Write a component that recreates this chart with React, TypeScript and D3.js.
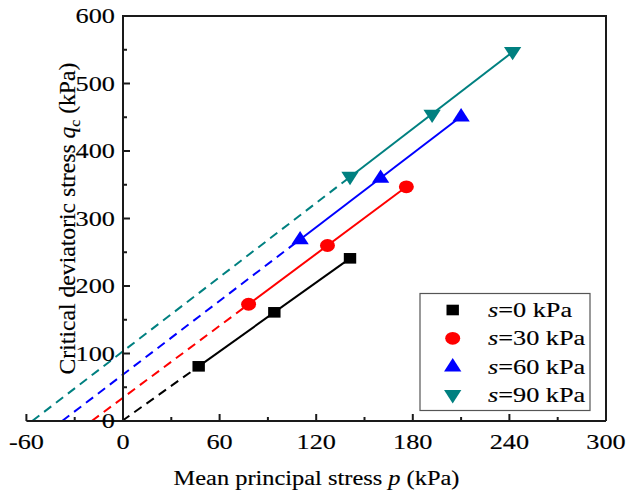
import React from "react";
import * as d3 from "d3";

const W = 638;
const H = 495;

const seriesNames = ["0", "30", "60", "90"];
const seriesColors = ["#000000", "#ff0000", "#0000ff", "#008080"];
const seriesShapes = ["square", "circle", "triUp", "triDown"];

const pS0 = [47, 94, 141];
const qS0 = [81, 161, 241];
const pS30 = [78, 127, 176];
const qS30 = [173, 260, 347];
const pS60 = [110, 160, 210];
const qS60 = [269, 360, 451];
const pS90 = [141, 192, 242];
const qS90 = [362, 454, 547];

const pSeries = [pS0, pS30, pS60, pS90];
const qSeries = [qS0, qS30, qS60, qS90];

const xMajorTicks = [-60, 0, 60, 120, 180, 240, 300];
const xMinorTicks = [-30, 30, 90, 150, 210, 270];
const yMajorTicks = [0, 100, 200, 300, 400, 500, 600];
const yMinorTicks = [50, 150, 250, 350, 450, 550];

const FONT = "'Liberation Serif', 'Times New Roman', serif";
const SX = 1.22;

function fit(p: number[], q: number[]) {
  const mp = d3.mean(p)!;
  const mq = d3.mean(q)!;
  let num = 0;
  let den = 0;
  p.forEach((v, i) => {
    num += (v - mp) * (q[i] - mq);
    den += (v - mp) * (v - mp);
  });
  const m = num / den;
  return { m, k: mq - m * mp };
}

function Marker({ shape, x, y, color }: { shape: string; x: number; y: number; color: string }) {
  const t = `translate(${x},${y}) scale(1.17,1)`;
  if (shape === "square") return <rect transform={t} x={-5.3} y={-5.3} width={10.6} height={10.6} fill={color} />;
  if (shape === "circle") return <circle transform={t} r={6.4} fill={color} />;
  if (shape === "triUp") return <path transform={t} d="M0,-8.5 L7.4,4.8 L-7.4,4.8 Z" fill={color} />;
  return <path transform={t} d="M0,8.5 L7.4,-4.8 L-7.4,-4.8 Z" fill={color} />;
}

export default function App() {
  const x = d3.scaleLinear().domain([-60, 300]).range([26.4, 606]);
  const y = d3.scaleLinear().domain([0, 600]).range([421, 16]);
  const axisColor = "#1a1a1a";
  const txt = { fill: "#000", stroke: "#000", strokeWidth: 0.15 };

  return (
    <svg width={W} height={H} style={{ display: "block", position: "absolute", left: 0, top: 0 }}>
      <rect width={W} height={H} fill="#fff" />
      {pSeries.map((p, i) => {
        const q = qSeries[i];
        const { m, k } = fit(p, q);
        const p0 = Math.max(-k / m, -60);
        const pStart = d3.min(p)!;
        const pEnd = d3.max(p)!;
        return (
          <g key={"l" + i} stroke={seriesColors[i]} strokeWidth={2} fill="none">
            <line x1={x(p0)} y1={y(m * p0 + k)} x2={x(pStart)} y2={y(m * pStart + k)} strokeDasharray="9,6" />
            <line x1={x(pStart)} y1={y(m * pStart + k)} x2={x(pEnd)} y2={y(m * pEnd + k)} />
          </g>
        );
      })}
      <g stroke={axisColor} strokeWidth={2} fill="none">
        <line x1={x(-60)} y1={y(0)} x2={x(300)} y2={y(0)} />
        <line x1={x(0)} y1={y(0)} x2={x(0)} y2={y(600)} />
        <line x1={x(0) - 1} y1={y(600)} x2={x(300) + 1} y2={y(600)} />
        <line x1={x(300)} y1={y(0)} x2={x(300)} y2={y(600)} />
        {xMajorTicks.map((t) => (
          <line key={"xM" + t} x1={x(t)} x2={x(t)} y1={y(0)} y2={y(0) - 7} />
        ))}
        {xMinorTicks.map((t) => (
          <line key={"xm" + t} x1={x(t)} x2={x(t)} y1={y(0)} y2={y(0) - 4} />
        ))}
        {yMajorTicks.map((t) => (
          <line key={"yM" + t} x1={x(0)} x2={x(0) + 7} y1={y(t)} y2={y(t)} />
        ))}
        {yMinorTicks.map((t) => (
          <line key={"ym" + t} x1={x(0)} x2={x(0) + 4} y1={y(t)} y2={y(t)} />
        ))}
      </g>
      {pSeries.map((p, i) =>
        p.map((v, j) => (
          <Marker key={"m" + i + "-" + j} shape={seriesShapes[i]} x={x(v)} y={y(qSeries[i][j])} color={seriesColors[i]} />
        ))
      )}
      <g fontFamily={FONT} fontSize={21} {...txt}>
        {xMajorTicks.map((t) => (
          <text key={"xl" + t} transform={`translate(${x(t)},${y(0) + 28}) scale(${SX + 0.03},1)`} textAnchor="middle">
            {t}
          </text>
        ))}
        {yMajorTicks.map((t) => (
          <text key={"yl" + t} transform={`translate(${x(0) - 8},${y(t) + 7}) scale(${SX + 0.03},1)`} textAnchor="end">
            {t}
          </text>
        ))}
      </g>
      <text fontFamily={FONT} fontSize={20} {...txt} transform={`translate(316.5,485) scale(${SX},1)`} textAnchor="middle">
        Mean principal stress <tspan fontStyle="italic">p</tspan> (kPa)
      </text>
      <text fontFamily={FONT} fontSize={23} {...txt} transform={`translate(75,218.5) rotate(-90) scale(1.03,1)`} textAnchor="middle">
        Critical deviatoric stress <tspan fontStyle="italic">q</tspan>
        <tspan fontSize={15} dy={5}>c</tspan>
        <tspan dy={-5}> (kPa)</tspan>
      </text>
      <rect x={420} y={293.5} width={170} height={117} fill="#fff" stroke="#555" strokeWidth={1.2} />
      {seriesNames.map((s, i) => {
        const ly = 310 + i * 28.3;
        return (
          <g key={"lg" + i}>
            <Marker shape={seriesShapes[i]} x={452.7} y={ly} color={seriesColors[i]} />
            <text fontFamily={FONT} fontSize={21} {...txt} transform={`translate(488,${ly + 7}) scale(${SX + 0.03},1)`}>
              <tspan fontStyle="italic">s</tspan>={s} kPa
            </text>
          </g>
        );
      })}
    </svg>
  );
}
